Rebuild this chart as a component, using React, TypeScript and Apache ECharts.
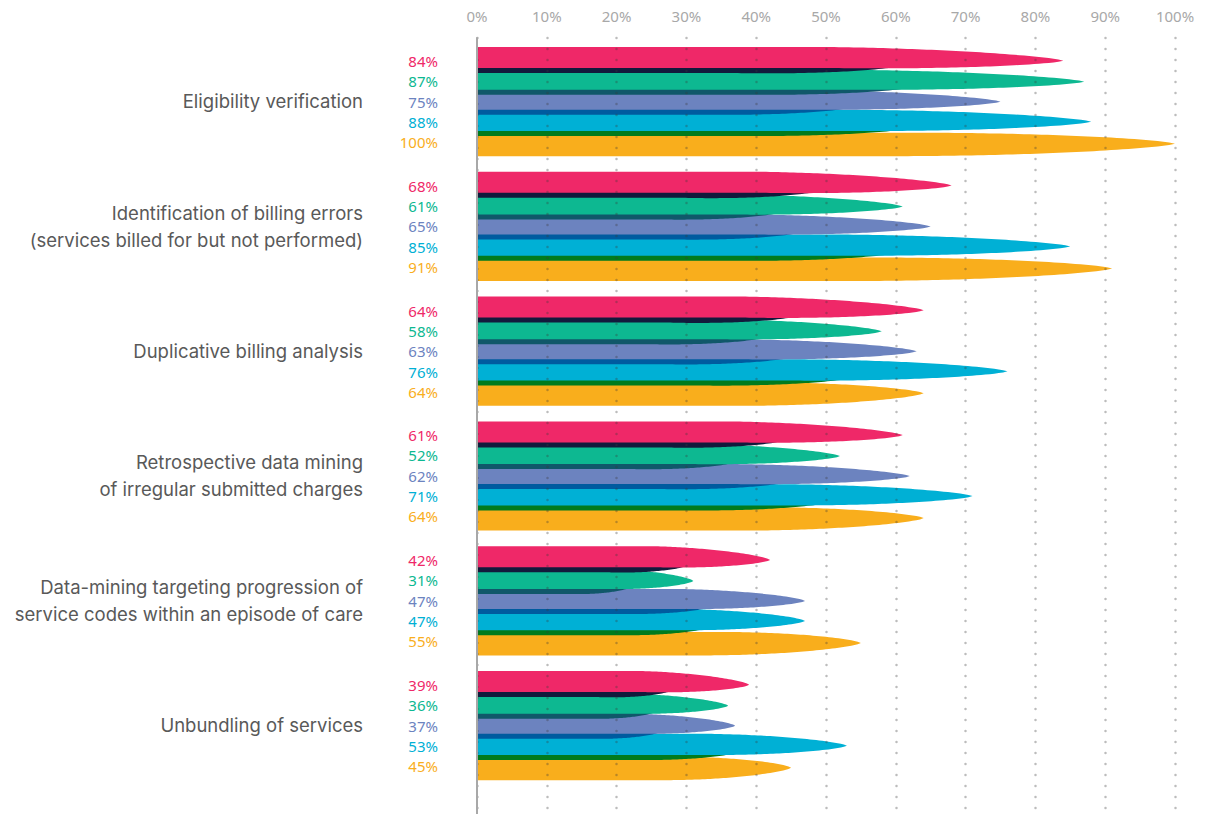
import React, { useEffect, useRef } from "react";
import * as echarts from "echarts";

// ---------- data ----------
const categories: string[] = [
  "Eligibility verification",
  "Identification of billing errors\n(services billed for but not performed)",
  "Duplicative billing analysis",
  "Retrospective data mining\nof irregular submitted charges",
  "Data-mining targeting progression of\nservice codes within an episode of care",
  "Unbundling of services",
];

const seriesNames: string[] = ["Series 1", "Series 2", "Series 3", "Series 4", "Series 5"];

const pinkValues: number[] = [84, 68, 64, 61, 42, 39];
const greenValues: number[] = [87, 61, 58, 52, 31, 36];
const purpleValues: number[] = [75, 65, 63, 62, 47, 37];
const cyanValues: number[] = [88, 85, 76, 71, 47, 53];
const yellowValues: number[] = [100, 91, 64, 64, 55, 45];

const xTickValues: number[] = [0, 10, 20, 30, 40, 50, 60, 70, 80, 90, 100];

// ---------- styles ----------
const seriesValues = [pinkValues, greenValues, purpleValues, cyanValues, yellowValues];
const colors = ["#ef2868", "#0db891", "#6c83bf", "#00b0d5", "#f9ae1c"];
const shadowColors = ["#121a3c", "#10586a", "#005b9f", "#017b1d", null];
// per-slot geometry (px, relative to category centre)
const tipOffsets = [-39.7, -18.7, 1.3, 21.3, 43.3];
const topOffsets = [-13.7, -12, -12, -12, -11];
const botOffsets = [7.3, 8, 8, 9.3, 12.5];
const labelOffsets = [-39.4, -19.4, 1.1, 21.6, 41.6];

const NUMFONT = "'Noto Sans', sans-serif";
const SANS = "Inter, 'Noto Sans', sans-serif";

// leaf-shaped bar: constant height for the first 60% of its length, then it
// narrows (a sharpened elliptical profile) towards a tip at height c
function leaf(x0: number, x1: number, c: number, topOff: number, botOff: number): number[][] {
  const L = Math.max(x1 - x0, 1);
  const cl = c + (topOff + botOff) / 2;
  const h0 = (botOff - topOff) / 2;
  const u0 = 0.6;
  const n = 48;
  const topPts: number[][] = [[x0, cl - h0]];
  const botPts: number[][] = [[x0, cl + h0]];
  for (let i = 0; i <= n; i++) {
    const s = i / n;
    const u = u0 + (1 - u0) * s;
    const x = x0 + u * L;
    const cen = cl + (c - cl) * s;
    const h = h0 * Math.pow(Math.max(1 - s * s, 0), 0.7);
    topPts.push([x, cen - h]);
    botPts.push([x, cen + h]);
  }
  return topPts.concat(botPts.slice(0, -1).reverse());
}

export default function App() {
  const ref = useRef<HTMLDivElement>(null);

  useEffect(() => {
    if (!ref.current) return;
    const chart = echarts.init(ref.current, null, { renderer: "svg" });

    // draw order: yellow first (bottom), pink last (top)
    const drawOrder = [4, 3, 2, 1, 0];
    const barSeries = drawOrder.map((slot, i) => ({
      type: "custom",
      name: seriesNames[slot],
      z: 2 + i,
      coordinateSystem: "cartesian2d",
      encode: { x: 0, y: 1 },
      data: seriesValues[slot].map((v, k) => [v, k]),
      renderItem: (params: any, api: any) => {
        const v = api.value(0);
        const k = api.value(1);
        const p0 = api.coord([0, k]);
        const p1 = api.coord([v, k]);
        const x0 = p0[0] + 1;
        const x1 = p1[0];
        const c = p0[1] + tipOffsets[slot];
        const children: any[] = [];
        const sc = shadowColors[slot];
        if (sc) {
          children.push({
            type: "polygon",
            shape: { points: leaf(x0, x0 + 0.72 * (x1 - x0), c + 5, topOffsets[slot], botOffsets[slot]) },
            style: { fill: sc },
          });
        }
        children.push({
          type: "polygon",
          shape: { points: leaf(x0, x1, c, topOffsets[slot], botOffsets[slot]) },
          style: { fill: colors[slot] },
        });
        children.push({
          type: "text",
          x: p0[0] - 39,
          y: p0[1] + labelOffsets[slot],
          style: {
            text: v + "%",
            fill: colors[slot],
            font: "15px " + NUMFONT,
            align: "right",
            verticalAlign: "middle",
          },
        });
        return { type: "group", children };
      },
    }));

    const labelSeries = {
      type: "custom",
      name: "categories",
      z: 30,
      coordinateSystem: "cartesian2d",
      encode: { x: 0, y: 1 },
      data: categories.map((_, k) => [0, k]),
      renderItem: (params: any, api: any) => {
        const k = api.value(1);
        const p = api.coord([0, k]);
        return {
          type: "text",
          x: p[0] - 114,
          y: p[1] + 1,
          style: {
            text: categories[k],
            fill: "#595959",
            font: "18.5px " + SANS,
            align: "right",
            verticalAlign: "middle",
            lineHeight: 27,
          },
        };
      },
    };

    chart.setOption({
      animation: false,
      backgroundColor: "#ffffff",
      grid: { left: 477, right: 45, top: 38, bottom: 0, containLabel: false },
      xAxis: {
        type: "value",
        position: "top",
        min: 0,
        max: 100,
        interval: 10,
        z: 20,
        axisLine: { show: false },
        axisTick: { show: false },
        axisLabel: {
          margin: 15,
          color: "#a8a8a8",
          fontFamily: NUMFONT,
          fontSize: 15,
          formatter: (v: number) => (xTickValues.includes(v) ? v + "%" : ""),
        },
        splitLine: {
          show: true,
          lineStyle: { color: "rgba(60,60,60,0.34)", width: 2.5, type: [0.1, 10.9], cap: "round" },
        },
      },
      yAxis: {
        type: "value",
        inverse: true,
        min: -0.5,
        max: -0.5 + 776 / 124.8,
        z: 20,
        axisLine: { show: true, onZero: false, lineStyle: { color: "#a8a8a8", width: 2 } },
        axisTick: { show: false },
        axisLabel: { show: false },
        splitLine: { show: false },
      },
      series: [...barSeries, labelSeries],
    });

    return () => chart.dispose();
  }, []);

  return (
    <div
      ref={ref}
      style={{ position: "absolute", left: 0, top: 0, width: 1220, height: 814 }}
    />
  );
}
